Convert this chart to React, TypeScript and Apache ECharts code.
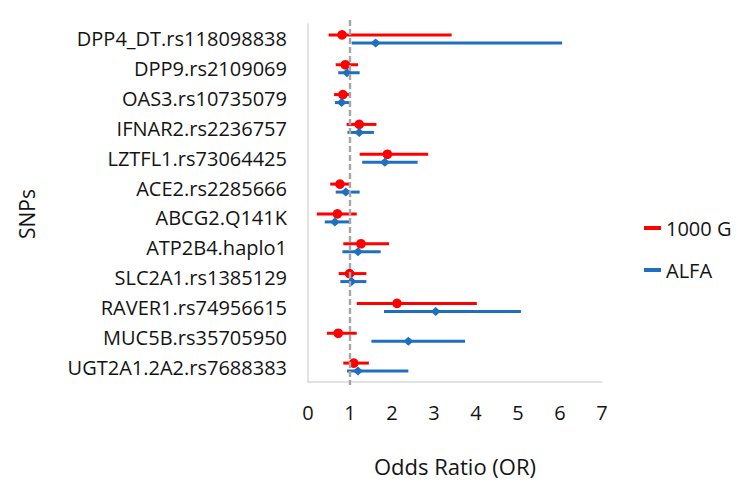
import React, { useEffect, useRef } from "react";
import * as echarts from "echarts";

const categories = [
  "DPP4_DT.rs118098838",
  "DPP9.rs2109069",
  "OAS3.rs10735079",
  "IFNAR2.rs2236757",
  "LZTFL1.rs73064425",
  "ACE2.rs2285666",
  "ABCG2.Q141K",
  "ATP2B4.haplo1",
  "SLC2A1.rs1385129",
  "RAVER1.rs74956615",
  "MUC5B.rs35705950",
  "UGT2A1.2A2.rs7688383",
];

// 1000 G: lower CI, OR, upper CI
const g1000Low = [0.49, 0.66, 0.62, 0.92, 1.23, 0.53, 0.21, 0.84, 0.73, 1.16, 0.45, 0.84];
const g1000OR = [0.81, 0.89, 0.83, 1.22, 1.89, 0.76, 0.7, 1.26, 0.99, 2.12, 0.72, 1.09];
const g1000High = [3.42, 1.19, 1.0, 1.63, 2.86, 1.02, 1.16, 1.93, 1.39, 4.02, 1.16, 1.45];

// ALFA: lower CI, OR, upper CI
const alfaLow = [1.04, 0.72, 0.64, 0.94, 1.29, 0.66, 0.4, 0.82, 0.77, 1.81, 1.51, 0.93];
const alfaOR = [1.61, 0.93, 0.8, 1.22, 1.83, 0.9, 0.64, 1.19, 1.04, 3.04, 2.39, 1.19];
const alfaHigh = [6.05, 1.23, 1.0, 1.57, 2.61, 1.23, 1.0, 1.73, 1.39, 5.07, 3.74, 2.39];

const xTicks = [0, 1, 2, 3, 4, 5, 6, 7];
const referenceOR = [1];

const FONT = '"Open Sans", "Noto Sans", sans-serif';
const TEXT = "#141414";
const RED = "#ff0000";
const BLUE = "#1f6fbf";

function makeErrorSeries(name: string, low: number[], or: number[], high: number[], color: string, offset: number, marker: "circle" | "diamond") {
  return {
    type: "custom",
    name,
    clip: false,
    z: 3,
    itemStyle: { color },
    encode: { x: [1, 2, 3], y: 0 },
    data: categories.map((_, i) => [i, low[i], or[i], high[i]]),
    renderItem: (params: any, api: any) => {
      const idx = api.value(0);
      const pLo = api.coord([api.value(1), idx]);
      const pE = api.coord([api.value(2), idx]);
      const pHi = api.coord([api.value(3), idx]);
      const y = pE[1] + offset;
      const children: any[] = [
        {
          type: "line",
          shape: { x1: pLo[0], y1: y, x2: pHi[0], y2: y },
          style: { stroke: color, lineWidth: 3 },
        },
      ];
      if (marker === "circle") {
        children.push({ type: "circle", shape: { cx: pE[0], cy: y, r: 4.8 }, style: { fill: color } });
      } else {
        const s = 5;
        children.push({
          type: "polygon",
          shape: { points: [[pE[0], y - s * 0.9], [pE[0] + s, y], [pE[0], y + s * 0.9], [pE[0] - s, y]] },
          style: { fill: color },
        });
      }
      return { type: "group", children };
    },
  };
}

export default function App() {
  const ref = useRef<HTMLDivElement>(null);
  useEffect(() => {
    document.body.style.margin = "0";
    if (!ref.current) return;
    const chart = echarts.init(ref.current, undefined, { renderer: "svg" });
    chart.setOption({
      animation: false,
      backgroundColor: "#ffffff",
      textStyle: { fontFamily: FONT },
      grid: { left: 308, right: 148, top: 24, bottom: 108 },
      legend: {
        orient: "vertical",
        left: 639,
        top: 213,
        itemWidth: 17,
        itemHeight: 4,
        itemGap: 22,
        textStyle: { fontFamily: FONT, fontSize: 20, color: TEXT, lineHeight: 20 },
        data: [
          { name: "1000 G", icon: "rect", itemStyle: { color: RED } },
          { name: "ALFA", icon: "rect", itemStyle: { color: BLUE } },
        ],
      },
      xAxis: {
        type: "value",
        min: xTicks[0],
        max: xTicks[xTicks.length - 1],
        interval: 1,
        name: "Odds Ratio (OR)",
        nameLocation: "middle",
        nameGap: 73,
        nameTextStyle: { fontFamily: FONT, fontSize: 22, color: TEXT },
        axisLine: { show: true, lineStyle: { color: "#d9d9d9", width: 1.5 } },
        axisTick: { show: false },
        splitLine: { show: false },
        axisLabel: { fontFamily: FONT, fontSize: 20, color: TEXT, margin: 20 },
      },
      yAxis: {
        type: "category",
        inverse: true,
        data: categories,
        axisLine: { show: true, lineStyle: { color: "#d9d9d9", width: 1.5 } },
        axisTick: { show: false },
        splitLine: { show: false },
        axisLabel: { fontFamily: FONT, fontSize: 20, color: TEXT, margin: 21 },
      },
      graphic: [
        {
          type: "text",
          x: 27,
          y: 214,
          rotation: Math.PI / 2,
          style: {
            text: "SNPs",
            font: `21px ${FONT}`,
            fill: TEXT,
            align: "center",
            verticalAlign: "middle",
          },
        },
      ],
      series: [
        makeErrorSeries("1000 G", g1000Low, g1000OR, g1000High, RED, -4, "circle"),
        makeErrorSeries("ALFA", alfaLow, alfaOR, alfaHigh, BLUE, 4, "diamond"),
        {
          type: "custom",
          name: "reference",
          clip: false,
          z: 5,
          silent: true,
          encode: { x: 0, y: 1 },
          data: referenceOR.map((v) => [v, 0]),
          renderItem: (params: any, api: any) => {
            const p = api.coord([api.value(0), 0]);
            const cs = params.coordSys;
            return {
              type: "line",
              shape: { x1: p[0], y1: cs.y - 4, x2: p[0], y2: cs.y + cs.height + 3 },
              style: { stroke: "#a6a6a6", lineWidth: 2.4, lineDash: [6, 3] },
            };
          },
        },
      ],
    });
    return () => chart.dispose();
  }, []);
  return <div ref={ref} style={{ width: 750, height: 490, position: "absolute", left: 0, top: 0 }} />;
}
